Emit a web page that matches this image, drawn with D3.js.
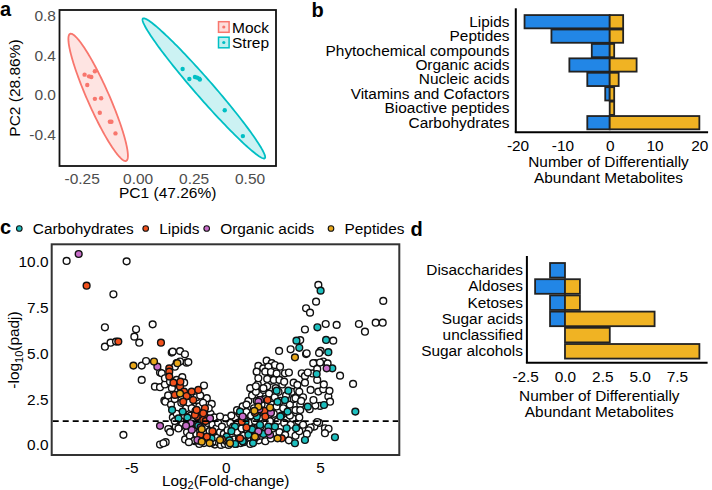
<!DOCTYPE html>
<html><head><meta charset="utf-8">
<script src="https://cdn.jsdelivr.net/npm/d3@7"></script>
<style>body{margin:0;background:#fff}svg{display:block}</style>
</head><body><svg id="fig" width="712" height="490"></svg>
<script>
// ---------------- DATA ----------------
// Panel a: PCA scores
const pcaGroups = ["Mock", "Strep"];
const mockPC1 = [-0.237, -0.217, -0.207, -0.191, -0.225, -0.191, -0.163, -0.169, -0.124, -0.117, -0.099];
const mockPC2 = [0.205, 0.188, 0.182, 0.239, 0.101, -0.040, -0.034, -0.181, -0.272, -0.272, -0.390];
const strepPC1 = [0.201, 0.231, 0.256, 0.266, 0.275, 0.278, 0.389, 0.470];
const strepPC2 = [0.262, 0.161, 0.182, 0.175, 0.165, 0.155, -0.155, -0.417];
const pcaXTicks = [-0.25, 0, 0.25, 0.5];
const pcaYTicks = [-0.4, 0, 0.4, 0.8];
const pcaXLabel = "PC1 (47.26%)";
const pcaYLabel = "PC2 (28.86%)";

// Panel b: metabolite classes
const classCats = ["Lipids", "Peptides", "Phytochemical compounds", "Organic acids", "Nucleic acids", "Vitamins and Cofactors", "Bioactive peptides", "Carbohydrates"];
const classDown = [-19, -13, -4, -9, -5, -1, 0, -5];
const classUp = [3, 3, 1, 6, 2, 1, 1, 20];
const classTicks = [-20, -10, 0, 10, 20];

// Panel d: carbohydrate sub-classes
const carbCats = ["Disaccharides", "Aldoses", "Ketoses", "Sugar acids", "unclassified", "Sugar alcohols"];
const carbDown = [-1, -2, -1, -1, 0, 0];
const carbUp = [0, 1, 1, 6, 3, 9];
const carbTicks = [-2.5, 0, 2.5, 5, 7.5];

const barTitle = ["Number of Differentially", "Abundant Metabolites"];

// Panel c: volcano plot  [log2 fold-change, -log10(padj)]
const volcanoTicksX = [-5, 0, 5];
const volcanoTicksY = [0, 2.5, 5, 7.5, 10];
const padjCutoff = 0.05;
const legendCats = ["Carbohydrates", "Lipids", "Organic acids", "Peptides"];

const otherLeft = [[-8.43,10.04],[-5.25,10.02],[-5.95,8.22],[-6.40,6.42],[-6.40,5.36],[-6.10,5.58],[-5.81,5.64],[-4.75,6.31],[-4.84,5.91],[-4.58,5.58],[-3.87,6.58],[-4.45,4.33],[-4.22,4.58],[-4.45,3.55],[-3.48,3.95],[-3.75,3.18],[-3.48,3.15],[-3.22,3.30],[-3.39,3.91],[-3.22,3.64],[-2.86,5.04],[-2.42,5.12],[-2.81,5.09],[-2.16,4.95],[-2.07,4.49],[-1.98,4.52],[-2.60,4.46],[-2.69,4.27],[-2.42,4.55],[-2.95,3.45],[-2.60,3.55],[-3.25,2.42],[-3.20,2.36],[-1.15,3.24],[-1.84,2.45],[-1.00,2.55],[-0.74,2.24],[-5.42,0.55],[-3.00,0.85],[-3.04,0.87],[-3.48,0.02],[-3.18,0.15],[-3.30,0.09],[-2.42,1.00],[-2.30,3.70],[-2.20,3.40],[-2.60,2.73],[-1.98,2.55],[-1.60,2.09],[-0.57,1.18],[-1.45,0.82],[-1.00,0.64],[-0.83,0.73],[-1.63,0.20],[-0.57,0.02],[-0.30,0.45],[-2.90,2.20],[-2.80,1.50],[-2.70,2.50],[-2.65,1.00],[-2.55,3.00],[-2.95,0.70],[-3.05,2.70],[-2.85,3.10]];

const otherCenter = [[-2.4,1.4],[-2.3,1.1],[-2.2,1.6],[-2.1,2.0],[-2.0,1.2],[-2.05,0.7],[-2.15,0.3],[-1.95,2.3],[-2.35,2.3],[-2.6,1.7],[-2.7,1.3],[-2.5,0.9],
[-1.9,0.5],[-1.85,1.6],[-1.8,2.0],[-1.75,1.3],[-1.7,0.9],[-1.65,0.25],[-1.6,1.85],[-1.55,2.6],[-1.5,1.1],[-1.55,0.6],[-1.95,0.15],
[-1.45,1.5],[-1.4,2.1],[-1.35,0.75],[-1.3,0.4],[-1.25,1.3],[-1.2,2.3],[-1.15,0.1],[-1.1,1.0],[-1.05,0.6],[-1.0,1.9],[-1.35,2.7],[-1.4,0.05],
[-0.95,1.2],[-0.9,0.3],[-0.85,0.75],[-0.8,1.7],[-0.75,0.1],[-0.7,1.1],[-0.65,0.5],[-0.6,1.5],[-0.55,0.2],[-0.5,0.9],[-0.9,2.0],
[-0.45,0.4],[-0.4,1.2],[-0.35,0.1],[-0.3,0.7],[-0.25,0.0],[-0.2,1.0],[-0.15,0.3],[-0.1,0.6],[-0.05,0.05],[0.0,1.45],[-0.3,1.55],
[0.05,0.2],[0.1,0.8],[0.15,0.0],[0.2,0.45],[0.25,1.2],[0.3,0.1],[0.35,0.6],[0.4,1.0],[0.45,0.3],[0.5,1.5],[0.3,1.6],
[0.55,0.05],[0.6,0.7],[0.65,1.2],[0.7,0.35],[0.75,1.7],[0.8,0.1],[0.85,0.9],[0.9,2.1],[0.95,0.5],[1.0,1.4],[0.6,1.9],[0.9,1.55],
[1.05,0.2],[1.1,1.8],[1.15,0.8],[1.2,2.4],[1.25,1.2],[1.3,0.4],[1.35,1.6],[1.4,2.7],[1.45,0.9],[1.5,2.0],[1.1,2.2],[1.3,0.05],
[1.55,1.3],[1.6,0.6],[1.65,2.4],[1.7,1.6],[1.75,0.25],[1.8,2.8],[1.85,1.0],[1.9,2.2],[1.95,1.45],[2.0,3.0],[1.6,2.9],[1.7,3.3],[1.85,0.5],
[2.05,1.2],[2.1,2.5],[2.15,0.65],[2.2,3.2],[2.25,1.6],[2.3,2.8],[2.35,1.3],[2.4,3.5],[2.45,2.2],[2.5,0.9],[2.1,0.2],[2.4,0.35],
[2.55,1.7],[2.6,2.6],[2.65,3.1],[2.7,2.1],[2.75,1.3],[2.8,2.9],[2.85,0.7],[2.9,2.4],[2.95,1.6],[3.0,3.3],[2.6,3.7],
[3.05,2.0],[3.1,1.2],[3.2,2.7],[3.3,1.7],[3.4,2.2],[3.45,1.1],[3.15,0.55],[3.35,0.25],[3.5,2.9],
[3.6,2.5],[3.7,1.9],[3.8,3.0],[3.85,1.3],[3.95,2.2],[3.7,0.5],[3.9,0.75]];

const otherRight = [[4.91,8.73],[4.79,7.82],[4.26,7.46],[4.47,7.22],[8.35,7.86],[7.06,6.60],[7.38,6.18],[7.95,6.67],[8.32,6.67],[4.20,6.30],[5.30,6.60],[5.88,6.55],[3.95,5.72],[3.44,5.22],[4.26,4.96],[2.83,5.13],[5.70,5.69],[5.03,5.13],[4.95,5.02],[4.73,4.46],[5.17,4.55],[5.40,4.45],[6.06,3.78],[6.75,3.33],[4.64,4.46],[4.29,5.00],[2.17,4.60],[2.44,4.46],[2.61,4.36],[2.88,4.27],[1.73,4.31],[1.99,4.18],[2.26,4.27],[1.64,4.00],[2.10,4.00],[2.40,3.98],[2.70,3.90],[3.14,3.91],[3.35,3.95],[4.03,3.91],[4.20,3.75],[1.73,3.64],[2.20,3.60],[2.55,3.55],[2.85,3.55],[3.10,3.45],[3.60,3.40],[3.80,3.28],[4.20,3.40],[4.91,2.91],[5.17,3.04],[5.44,2.64],[5.53,2.36],[5.00,2.13],[4.75,2.15],[1.30,3.10],[1.60,3.20],[2.00,3.10],[3.90,2.90],[4.10,2.60],[3.70,2.55],[4.00,2.40],[3.55,1.45],[3.40,1.60],[3.90,1.50],[4.95,1.20],[4.70,1.00],[4.50,0.95],[5.26,0.91],[5.45,0.88],[5.26,0.64],[4.40,0.80],[3.95,1.90],[4.45,1.95],[4.65,2.45],[4.50,3.00],[4.60,3.90],[4.35,3.95],[4.85,4.15],[5.00,4.50],[5.50,2.95],[5.20,3.30],[4.85,3.55],[4.10,1.10],[4.30,0.60],[4.85,1.25]];

const carbPts = [[5.03,8.42],[4.86,6.42],[3.75,5.69],[3.90,5.30],[5.32,5.73],[5.44,5.06],[5.65,4.18],[4.82,3.87],[5.21,2.18],[6.87,1.82],[5.79,0.42],[3.67,0.09],[4.20,0.27],[3.32,2.96],[2.70,2.96],[3.14,2.45],[4.35,2.09],[0.76,1.82],[3.28,1.82],[0.49,1.00],[1.82,1.09],[2.26,1.00],[2.61,1.00],[3.23,0.91],[3.73,0.91],[1.20,0.55],[0.05,0.45],[-2.84,1.91],[-2.28,1.82],[-2.03,1.49],[0.20,0.25],[0.95,0.15],[1.50,0.30],[2.00,0.60],[1.05,1.25],[2.90,1.55],[1.40,0.85],[-0.75,0.35],[-1.45,1.05],[-2.50,1.45],[0.50,0.05],[2.75,2.35],[1.65,1.55],[0.90,0.20],[1.45,0.10],[0.30,0.75]];

const lipidPts = [[-7.37,8.69],[-5.69,5.64],[-3.43,5.58],[-2.99,4.18],[-2.99,4.00],[-2.99,3.73],[-2.77,3.40],[-2.42,3.18],[-2.21,2.91],[-2.07,2.67],[-2.25,2.36],[-2.69,2.73],[-1.80,2.91],[-1.45,3.00],[-1.72,2.45],[-1.54,1.55],[-1.10,2.00],[-1.10,1.55],[-1.63,1.64],[-1.19,1.73],[-1.19,1.36],[-1.00,0.45],[-1.54,1.91],[-1.06,1.30],[-2.40,3.45],[0.85,1.27],[2.22,2.45],[2.05,1.86],[0.76,0.36],[2.97,0.36],[-0.70,0.75],[-1.35,0.55],[1.10,0.95],[2.10,1.55],[-0.20,0.30],[1.55,1.75]];

const organicPts = [[-7.79,10.42],[-3.62,4.27],[-3.48,1.04],[-1.86,1.18],[-1.80,0.82],[-0.83,1.45],[-1.45,0.23],[1.82,2.45],[2.40,1.76],[1.64,0.45],[2.35,0.55],[5.35,4.18],[0.90,1.55],[1.73,2.36],[1.78,1.95],[2.26,0.73],[1.73,0.73],[-1.33,0.96],[-1.50,0.27],[-2.10,1.05]];

const peptidePts = [[-4.89,4.33],[-3.80,4.55],[-2.56,4.46],[3.67,4.78],[1.73,2.09],[2.35,2.04],[1.52,1.86],[-1.27,0.86],[-1.27,0.18],[-0.30,0.27],[0.23,0.09],[2.75,0.36],[-2.42,2.80],[1.55,0.45],[-0.85,0.10]];

// ---------------- STYLE ----------------
const FONT = '"Liberation Sans", Arial, Helvetica, sans-serif';
const FS = 15.4;
const pcaColors = ["#F8766D", "#00BFC4"];
const downColor = "#2286E6", upColor = "#F0B323";
const catColors = ["#1DBFBF", "#F2511C", "#C86DC9", "#E8A71A"];

const svg = d3.select("#fig");
svg.append("rect").attr("width", 712).attr("height", 490).attr("fill", "#fff");

function styleAxis(g, color) {
  g.attr("font-family", FONT).attr("font-size", FS);
  g.select(".domain").remove();
  g.selectAll("text").attr("fill", color);
}
const hy = s => s.replace("\u2212", "-");
function panelLetter(t, x, y) {
  svg.append("text").attr("x", x).attr("y", y).attr("font-family", FONT)
    .attr("font-weight", "bold").attr("font-size", 20).text(t);
}

// ---------------- PANEL a ----------------
{
  const x = d3.scaleLinear().domain([-0.349, 0.618]).range([59.5, 276]);
  const y = d3.scaleLinear().domain([-0.72, 0.86]).range([166, 10]);
  const g = svg.append("g");
  const groups = [[mockPC1, mockPC2], [strepPC1, strepPC2]];
  groups.forEach(([xs, ys], gi) => {
    const n = xs.length, mx = d3.mean(xs), my = d3.mean(ys);
    let sxx = 0, syy = 0, sxy = 0;
    for (let i = 0; i < n; i++) {
      sxx += (xs[i] - mx) ** 2; syy += (ys[i] - my) ** 2; sxy += (xs[i] - mx) * (ys[i] - my);
    }
    sxx /= n - 1; syy /= n - 1; sxy /= n - 1;
    const F = ((n - 1) / 2) * (Math.pow(0.05, -2 / (n - 1)) - 1);
    const r = Math.sqrt(2 * F);
    const a = Math.sqrt(sxx), b = sxy / a, c = Math.sqrt(syy - b * b);
    const pts = d3.range(0, 360, 2).map(deg => {
      const t = deg * Math.PI / 180;
      return [x(mx + r * Math.cos(t) * a), y(my + r * (Math.cos(t) * b + Math.sin(t) * c))];
    });
    g.append("path").attr("d", d3.line()(pts) + "Z")
      .attr("fill", pcaColors[gi]).attr("fill-opacity", 0.2)
      .attr("stroke", pcaColors[gi]).attr("stroke-width", 1.8);
    xs.forEach((v, i) => g.append("circle").attr("cx", x(v)).attr("cy", y(ys[i]))
      .attr("r", 2.2).attr("fill", pcaColors[gi]));
  });
  const ax = g.append("g").attr("transform", "translate(0,166)")
    .call(d3.axisBottom(x).tickValues(pcaXTicks).tickSize(0).tickPadding(6.5)
      .tickFormat(d => hy(d3.format(".2f")(d))));
  styleAxis(ax, "#4d4d4d"); ax.attr("font-size", 15.5);
  const ay = g.append("g").attr("transform", "translate(59.5,0)")
    .call(d3.axisLeft(y).tickValues(pcaYTicks).tickSize(0).tickPadding(3.5)
      .tickFormat(d => hy(d3.format(".1f")(d))));
  styleAxis(ay, "#4d4d4d"); ay.attr("font-size", 15.5);
  g.append("rect").attr("x", 59.5).attr("y", 10).attr("width", 216.5).attr("height", 156)
    .attr("fill", "none").attr("stroke", "#111").attr("stroke-width", 1.8);
  g.append("text").attr("x", 167.7).attr("y", 198).attr("text-anchor", "middle")
    .attr("font-family", FONT).attr("font-size", 15.5).text(pcaXLabel);
  g.append("text").attr("transform", "translate(20,88) rotate(-90)").attr("text-anchor", "middle")
    .attr("font-family", FONT).attr("font-size", 15.5).text(pcaYLabel);
  // legend
  pcaGroups.forEach((name, i) => {
    const cy = 27 + i * 15.5;
    g.append("rect").attr("x", 218.5).attr("y", cy - 5.3).attr("width", 10.6).attr("height", 10.6)
      .attr("fill", d3.color(pcaColors[i]).copy({opacity: 0.25})).attr("stroke", pcaColors[i]).attr("stroke-width", 1.5);
    g.append("circle").attr("cx", 223.8).attr("cy", cy).attr("r", 1.6).attr("fill", pcaColors[i]);
    g.append("text").attr("x", 232).attr("y", cy + 5.5).attr("font-family", FONT)
      .attr("font-size", 15.5).text(name);
  });
  panelLetter("a", 0, 16);
}

// ---------------- BAR PANELS (b, d) ----------------
function barPanel(cfg) {
  const x = d3.scaleLinear().domain(cfg.xDomain).range(cfg.xRange);
  const y = d3.scaleBand().domain(cfg.cats).range(cfg.bandRange).paddingInner(cfg.pi).paddingOuter(cfg.pi / 2);
  const g = svg.append("g");
  cfg.cats.forEach((c, i) => {
    if (cfg.down[i] < 0) g.append("rect").attr("x", x(cfg.down[i])).attr("y", y(c))
      .attr("width", x(0) - x(cfg.down[i])).attr("height", y.bandwidth())
      .attr("fill", downColor).attr("stroke", "#222").attr("stroke-width", 1.8);
    if (cfg.up[i] > 0) g.append("rect").attr("x", x(0)).attr("y", y(c))
      .attr("width", x(cfg.up[i]) - x(0)).attr("height", y.bandwidth())
      .attr("fill", upColor).attr("stroke", "#222").attr("stroke-width", 1.8);
  });
  const [x0, x1] = cfg.xRange;
  g.append("line").attr("x1", x0).attr("x2", x0).attr("y1", cfg.axisTop).attr("y2", cfg.axisBottom)
    .attr("stroke", "#000").attr("stroke-width", 2);
  g.append("line").attr("x1", x0 - 1).attr("x2", x1).attr("y1", cfg.axisBottom).attr("y2", cfg.axisBottom)
    .attr("stroke", "#000").attr("stroke-width", 2);
  const ax = g.append("g").attr("transform", `translate(0,${cfg.axisBottom})`)
    .call(d3.axisBottom(x).tickValues(cfg.ticks).tickSize(0).tickPadding(8)
      .tickFormat(d => hy(d3.format(cfg.fmt)(d))));
  styleAxis(ax, "#000");
  ax.selectAll("text").attr("dx", d => d < 0 ? -2.5 : 0);
  const ay = g.append("g").attr("transform", `translate(${cfg.labelX},0)`)
    .call(d3.axisLeft(y).tickSize(0).tickPadding(0));
  styleAxis(ay, "#000");
  barTitle.forEach((t, i) => g.append("text").attr("x", cfg.titleX).attr("y", cfg.titleY + i * 15.5)
    .attr("text-anchor", "middle").attr("font-family", FONT).attr("font-size", FS).text(t));
}

barPanel({cats: classCats, down: classDown, up: classUp, ticks: classTicks, fmt: "d",
  xDomain: [-20.95, 21.95], xRange: [515.8, 708.1], bandRange: [14.5, 129.9], pi: 0.08,
  axisTop: 8.3, axisBottom: 132.3, labelX: 509.5, titleX: 608.5, titleY: 167});
panelLetter("b", 311.5, 16.5);

barPanel({cats: carbCats, down: carbDown, up: carbUp, ticks: carbTicks, fmt: ".1f",
  xDomain: [-2.55, 9.55], xRange: [526.9, 707.6], bandRange: [262.2, 359.4], pi: 0.1,
  axisTop: 256, axisBottom: 362.7, labelX: 523, titleX: 599.3, titleY: 401});
panelLetter("d", 410.5, 235.5);

// ---------------- PANEL c ----------------
{
  const x = d3.scaleLinear().domain([-9.22, 9.2]).range([51.7, 399.3]);
  const y = d3.scaleLinear().domain([-0.55, 10.95]).range([455, 244.3]);
  const g = svg.append("g");
  const drawPts = (arr, fill) => g.append("g").selectAll("circle").data(arr).join("circle")
    .attr("cx", d => x(d[0])).attr("cy", d => y(d[1])).attr("r", 3.4)
    .attr("fill", fill).attr("stroke", "#111").attr("stroke-width", 1.4);
  drawPts(otherLeft, "#fff");
  drawPts(otherCenter, "#fff");
  drawPts(otherRight, "#fff");
  drawPts(carbPts, catColors[0]);
  drawPts(lipidPts, catColors[1]);
  drawPts(organicPts, catColors[2]);
  drawPts(peptidePts, catColors[3]);
  const cut = -Math.log10(padjCutoff);
  g.append("line").attr("x1", 52.7).attr("x2", 398.3).attr("y1", y(cut)).attr("y2", y(cut))
    .attr("stroke", "#000").attr("stroke-width", 1.8).attr("stroke-dasharray", "6,4");
  g.append("rect").attr("x", 51.7).attr("y", 244.3).attr("width", 347.6).attr("height", 210.7)
    .attr("fill", "none").attr("stroke", "#333").attr("stroke-width", 2);
  const ax = g.append("g").attr("transform", "translate(0,455)")
    .call(d3.axisBottom(x).tickValues(volcanoTicksX).tickSize(0).tickPadding(7.3)
      .tickFormat(d => hy(d3.format("d")(d))));
  styleAxis(ax, "#000");
  const ay = g.append("g").attr("transform", "translate(51.7,0)")
    .call(d3.axisLeft(y).tickValues(volcanoTicksY).tickSize(0).tickPadding(3.2)
      .tickFormat(d => d3.format(".1f")(d)));
  styleAxis(ay, "#000");
  const xl = g.append("text").attr("x", 225.7).attr("y", 486.3).attr("text-anchor", "middle")
    .attr("font-family", FONT).attr("font-size", FS);
  xl.append("tspan").text("Log");
  xl.append("tspan").attr("font-size", 11).attr("dy", 3).text("2");
  xl.append("tspan").attr("dy", -3).text("(Fold-change)");
  const yl = g.append("text").attr("transform", "translate(19,350) rotate(-90)").attr("text-anchor", "middle")
    .attr("font-family", FONT).attr("font-size", FS);
  yl.append("tspan").text("-log");
  yl.append("tspan").attr("font-size", 11).attr("dy", 3.5).text("10");
  yl.append("tspan").attr("dy", -3.5).text("(padj)");
  // legend
  const lx = [19.3, 145.7, 206.7, 331];
  legendCats.forEach((c, i) => {
    g.append("circle").attr("cx", lx[i]).attr("cy", 228.5).attr("r", 2.8)
      .attr("fill", catColors[i]).attr("stroke", "#111").attr("stroke-width", 1.1);
    g.append("text").attr("x", lx[i] + 13.5).attr("y", 234).attr("font-family", FONT)
      .attr("font-size", FS).text(c);
  });
  panelLetter("c", 0, 234);
}
</script></body></html>
